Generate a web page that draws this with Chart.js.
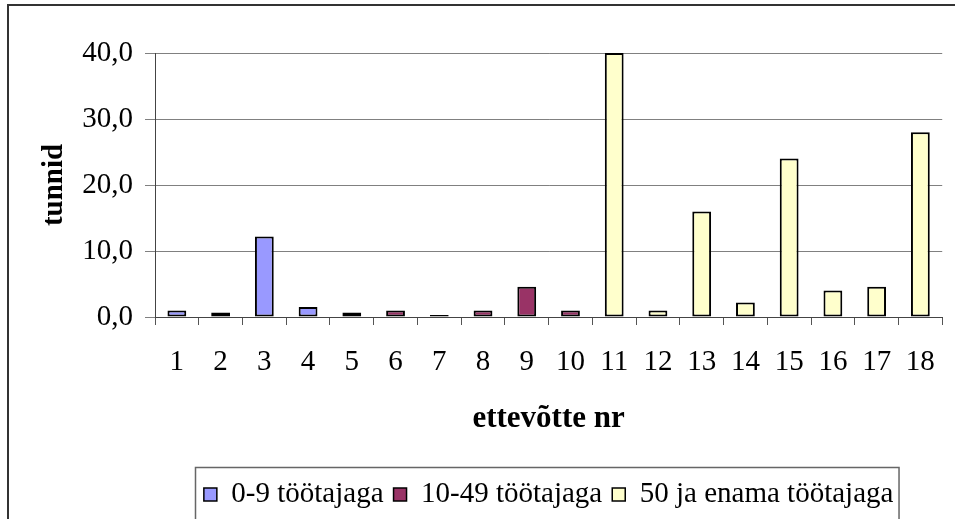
<!DOCTYPE html>
<html><head><meta charset="utf-8">
<script src="https://cdn.jsdelivr.net/npm/chart.js@4.4.0/dist/chart.umd.min.js"></script>
<style>html,body{margin:0;padding:0;background:#fff;overflow:hidden}</style>
</head><body>
<canvas id="c" width="955" height="519" style="display:block;width:955px;height:519px"></canvas>
<script>
const categories = ['1','2','3','4','5','6','7','8','9','10','11','12','13','14','15','16','17','18'];
const seriesNames = ['0-9 töötajaga', '10-49 töötajaga', '50 ja enama töötajaga'];
const small = [1.0, 0.7, 12.2, 1.5, 0.7, null, null, null, null, null, null, null, null, null, null, null, null, null];
const medium = [null, null, null, null, null, 1.0, 0.3, 1.0, 4.6, 1.0, null, null, null, null, null, null, null, null];
const large = [null, null, null, null, null, null, null, null, null, null, 40.0, 1.0, 16.0, 2.2, 24.0, 4.0, 4.6, 28.0];
const yTicks = [0, 10, 20, 30, 40];
const xTitle = 'ettevõtte nr';
const yTitle = 'tunnid';

const FONT = "'Liberation Serif', 'Times New Roman', serif";
const FS = 29;

const framePlugin = {
  id: 'frames',
  afterDraw(chart) {
    const ctx = chart.ctx;
    ctx.save();
    ctx.strokeStyle = '#333';
    ctx.lineWidth = 2;
    ctx.strokeRect(8, 5, 1000, 1000);
    const boxes = chart.legend.legendHitBoxes;
    if (boxes && boxes.length) {
      let l = Infinity, r = -Infinity, t = Infinity;
      boxes.forEach(b => { l = Math.min(l, b.left); r = Math.max(r, b.left + b.width); t = Math.min(t, b.top); });
      ctx.strokeStyle = '#666';
      ctx.lineWidth = 1.5;
      ctx.strokeRect(Math.round(l) - 8.5, Math.round(t) - 12.5, (r - l) + 14, 100);
    }
    ctx.restore();
  }
};

const mk = (label, data, color) => ({
  label, data, backgroundColor: color, borderColor: '#000', borderWidth: 2,
  borderSkipped: false, barPercentage: 0.43, categoryPercentage: 1.0
});

new Chart(document.getElementById('c'), {
  type: 'bar',
  data: {
    labels: categories,
    datasets: [
      mk(seriesNames[0], small, '#9999FF'),
      mk(seriesNames[1], medium, '#993366'),
      mk(seriesNames[2], large, '#FFFFCC')
    ]
  },
  options: {
    responsive: false,
    animation: false,
    devicePixelRatio: 1,
    layout: { padding: { left: 0, right: 5, top: 53, bottom: 0 } },
    plugins: {
      tooltip: { enabled: false },
      legend: {
        position: 'bottom',
        fullSize: false,
        labels: {
          color: '#000',
          font: { family: FONT, size: FS },
          boxWidth: 13, boxHeight: 13, padding: 10,
          generateLabels(chart) {
            return chart.data.datasets.map((d, i) => ({
              text: d.label, fillStyle: d.backgroundColor, strokeStyle: '#000',
              lineWidth: 1.5, datasetIndex: i, hidden: false
            }));
          }
        }
      }
    },
    scales: {
      x: {
        stacked: true,
        offset: true,
        grid: { display: true, drawOnChartArea: false, drawTicks: true, tickLength: 8, color: '#555', offset: true },
        border: { color: '#444', width: 1 },
        ticks: { color: '#000', font: { family: FONT, size: FS }, padding: 20, maxRotation: 0, autoSkip: false },
        title: { display: true, text: xTitle, color: '#000', font: { family: FONT, size: 31, weight: 'bold' }, padding: { top: 0, bottom: 32 } },
        afterFit(scale) { scale.height = 153; }
      },
      y: {
        stacked: true,
        min: 0, max: 40,
        afterBuildTicks(scale) { scale.ticks = yTicks.map(v => ({ value: v })); },
        grid: { color: '#808080', lineWidth: 1, drawTicks: true, tickLength: 10 },
        border: { color: '#444', width: 1 },
        ticks: {
          color: '#000', font: { family: FONT, size: FS }, padding: 12,
          callback: v => v.toFixed(1).replace('.', ',')
        },
        title: { display: true, text: yTitle, color: '#000', font: { family: FONT, size: FS, weight: 'bold' }, padding: { top: 37, bottom: 0 } },
        afterFit(scale) { scale.width = 155; }
      }
    }
  },
  plugins: [framePlugin]
});
</script>
</body></html>
